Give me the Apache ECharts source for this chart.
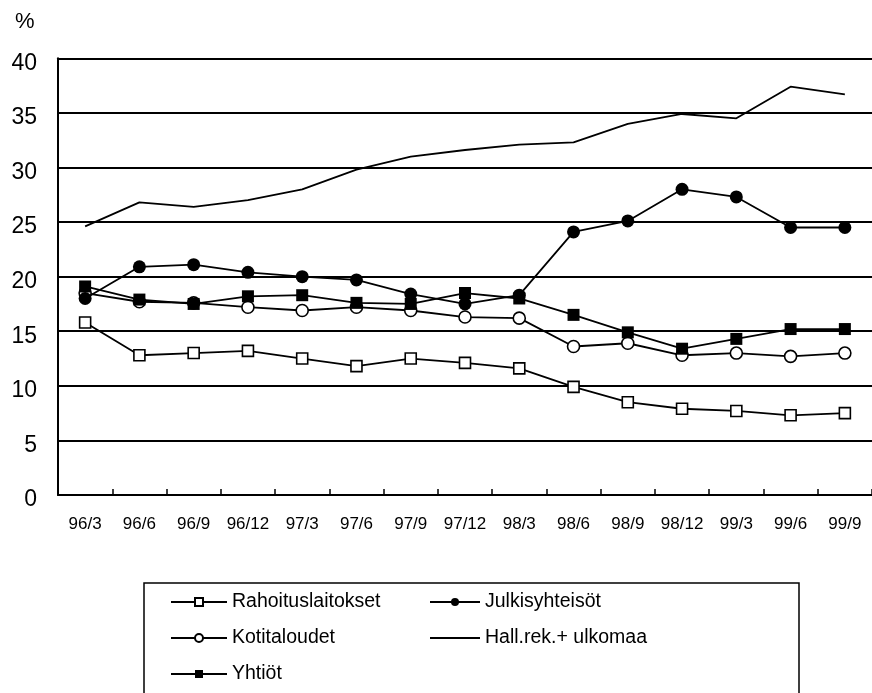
<!DOCTYPE html>
<html>
<head>
<meta charset="utf-8">
<script src="https://cdn.jsdelivr.net/npm/echarts@6/dist/echarts.min.js"></script>
<style>
  html, body { margin: 0; padding: 0; background: #fff; }
  #chart { width: 872px; height: 693px; }
</style>
</head>
<body>
<div id="chart"></div>
<script>
// Quarterly shares by holder sector, %
const quarters = ['96/3', '96/6', '96/9', '96/12', '97/3', '97/6', '97/9', '97/12',
                  '98/3', '98/6', '98/9', '98/12', '99/3', '99/6', '99/9'];

const rahoituslaitokset = [15.8, 12.8, 13.0, 13.2, 12.5, 11.8, 12.5, 12.1, 11.6, 9.9, 8.5, 7.9, 7.7, 7.3, 7.5];
const kotitaloudet      = [18.5, 17.7, 17.6, 17.2, 16.9, 17.2, 16.9, 16.3, 16.2, 13.6, 13.9, 12.8, 13.0, 12.7, 13.0];
const yhtiot            = [19.1, 17.9, 17.5, 18.2, 18.3, 17.6, 17.5, 18.5, 18.0, 16.5, 14.9, 13.4, 14.3, 15.2, 15.2];
const julkisyhteisot    = [18.0, 20.9, 21.1, 20.4, 20.0, 19.7, 18.4, 17.5, 18.3, 24.1, 25.1, 28.0, 27.3, 24.5, 24.5];
const hallRekUlkomaa    = [24.6, 26.8, 26.4, 27.0, 28.0, 29.8, 31.0, 31.6, 32.1, 32.3, 34.0, 34.9, 34.5, 37.4, 36.7];

const yTicks = { min: 0, max: 40, step: 5 };

const FONT = 'Liberation Sans, Arial, sans-serif';
const INK = '#000';

const chart = echarts.init(document.getElementById('chart'), null, { renderer: 'canvas' });

function lineSeries(name, data, symbol, filled, size) {
  return {
    name: name,
    type: 'line',
    data: data,
    symbol: symbol,
    symbolSize: size,
    showSymbol: symbol !== 'none',
    lineStyle: { color: INK, width: 1.8 },
    itemStyle: {
      color: filled ? INK : '#fff',
      borderColor: INK,
      borderWidth: filled ? 0 : 1.6
    },
    emphasis: { disabled: true },
    animation: false
  };
}

const legendText = { fontFamily: FONT, fontSize: 19.5, color: INK };

chart.setOption({
  animation: false,
  backgroundColor: '#fff',
  title: {
    text: '%',
    left: 10,
    top: 6,
    textStyle: { fontFamily: FONT, fontSize: 22, fontWeight: 'normal', color: INK }
  },
  graphic: [{
    type: 'rect',
    shape: { x: 144, y: 583, width: 655, height: 140 },
    style: { fill: 'none', stroke: INK, lineWidth: 1.5 },
    silent: true
  }],
  legend: [
    {
      data: ['Rahoituslaitokset', 'Kotitaloudet', 'Yhtiöt'],
      orient: 'vertical',
      left: 170,
      top: 592,
      itemWidth: 56,
      itemHeight: 10,
      itemGap: 16,
      padding: 0,
      textStyle: legendText,
      selectedMode: false
    },
    {
      data: [
        'Julkisyhteisöt',
        { name: 'Hall.rek.+ ulkomaa', itemStyle: { opacity: 0 } }
      ],
      orient: 'vertical',
      left: 429,
      top: 592,
      itemWidth: 50,
      itemHeight: 10,
      itemGap: 16,
      padding: 0,
      textStyle: legendText,
      selectedMode: false
    }
  ],
  grid: {
    left: 58,
    top: 58.3,
    width: 820.5,
    height: 436.7,
    containLabel: false
  },
  xAxis: {
    type: 'category',
    data: quarters,
    boundaryGap: true,
    axisLine: { show: true, lineStyle: { color: INK, width: 2 } },
    axisTick: { show: true, inside: true, length: 6, lineStyle: { color: INK, width: 1.5 } },
    axisLabel: { fontFamily: FONT, fontSize: 17, color: INK, margin: 21, interval: 0 },
    splitLine: { show: false }
  },
  yAxis: {
    type: 'value',
    min: yTicks.min,
    max: yTicks.max,
    interval: yTicks.step,
    axisLine: { show: true, lineStyle: { color: INK, width: 2 } },
    axisTick: { show: false },
    axisLabel: {
      fontFamily: FONT, fontSize: 23, color: INK, margin: 21,
      verticalAlign: 'top', lineHeight: 10
    },
    splitLine: { show: true, lineStyle: { color: INK, width: 2 } }
  },
  series: [
    lineSeries('Rahoituslaitokset', rahoituslaitokset, 'rect', false, 11),
    lineSeries('Kotitaloudet', kotitaloudet, 'circle', false, 12),
    lineSeries('Hall.rek.+ ulkomaa', hallRekUlkomaa, 'none', true, 0),
    lineSeries('Julkisyhteisöt', julkisyhteisot, 'circle', true, 13),
    lineSeries('Yhtiöt', yhtiot, 'rect', true, 12)
  ]
});
</script>
</body>
</html>
